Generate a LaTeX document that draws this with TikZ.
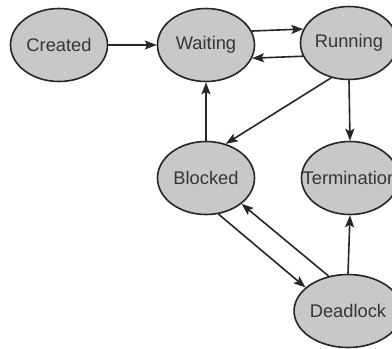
\documentclass[tikz,border=0pt]{standalone}
\usepackage{fontspec}
\setmainfont{Liberation Sans}
\usetikzlibrary{shapes.geometric,arrows.meta}
\definecolor{statefill}{HTML}{C8C8C8}
\definecolor{inkline}{HTML}{262626}
\definecolor{inktext}{HTML}{353535}
\begin{document}
\begin{tikzpicture}[x=1pt,y=-1pt,line width=1.6pt,
    state/.style={ellipse,draw=inkline,fill=statefill,text=inktext,
      minimum width=97pt,minimum height=73pt,inner sep=0pt,
      font=\fontsize{18.3}{21}\selectfont},
    edge/.style={draw=inkline,-{Stealth[length=12pt,width=9pt,inset=2.5pt]}}]
  \clip (0,0) rectangle (392,349);
  \fill[white] (0,0) rectangle (392,349);
  % states
  \node[state] (created) at (59,45) {Created};
  \node[state] (waiting) at (206,45) {Waiting};
  \node[state] (running) at (349,43) {Running};
  \node[state] (blocked) at (206,178) {Blocked};
  \node[state,inner xsep=-14pt] (termination) at (350,178) {Termination};
  \node[state] (deadlock) at (348,311) {Deadlock};
  % transitions
  \draw[edge] (created) -- (waiting);
  \draw[edge] (waiting.17) -- (running.163);
  \draw[edge] (running.196) -- (waiting.-16);
  \draw[edge] (running.243) -- (blocked.60);
  \draw[edge] (running.south) -- (termination.north);
  \draw[edge] (blocked.north) -- (waiting.south);
  \draw[edge] (blocked.-71) -- (deadlock.151);
  \draw[edge] (deadlock.119) -- (blocked.-36);
  \draw[edge] (deadlock.north) -- (termination.south);
\end{tikzpicture}
\end{document}
